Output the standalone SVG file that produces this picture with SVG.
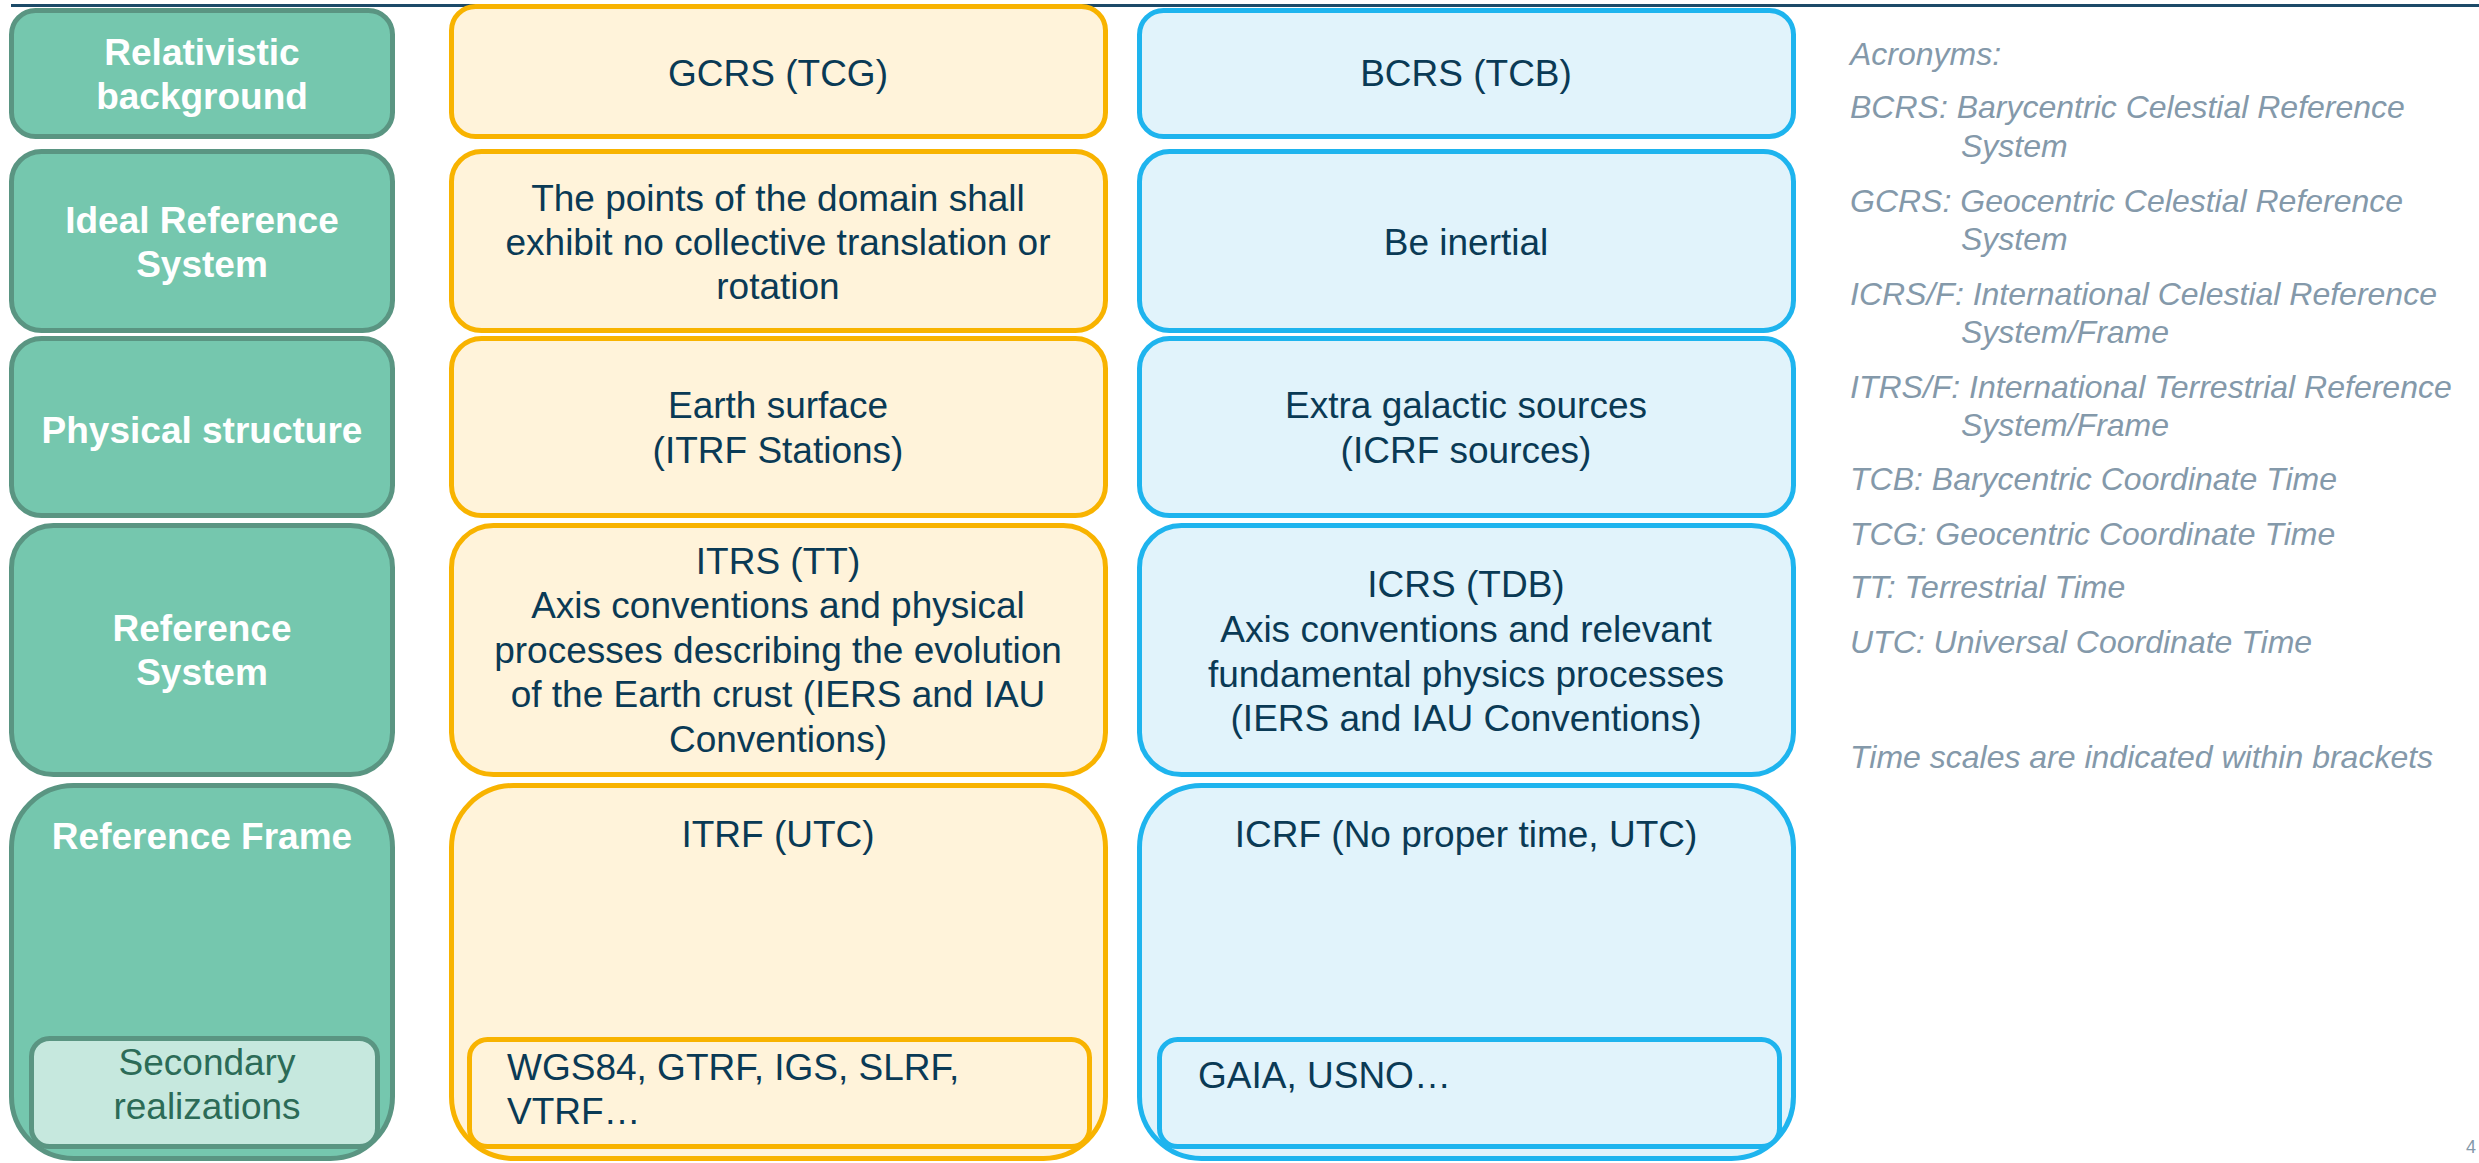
<svg xmlns="http://www.w3.org/2000/svg" width="2479" height="1163" viewBox="0 0 2479 1163">
<style>
text{font-family:"Liberation Sans",Arial,sans-serif}
.g{fill:#75c7ae;stroke:#5a9582;stroke-width:5}
.gs{fill:#c6e8de;stroke:#5a9582;stroke-width:5}
.o{fill:#fff3da;stroke:#f8b300;stroke-width:5}
.b{fill:#e1f3fb;stroke:#1eb4ee;stroke-width:5}
.gl{fill:#ffffff;font-weight:bold;font-size:37px;text-anchor:middle}
.sl{fill:#2c6b57;font-size:37px;text-anchor:middle}
.t{fill:#0a3a55;font-size:37px;text-anchor:middle}
.tl{fill:#0a3a55;font-size:37px}
.a{fill:#8499aa;font-size:32px;font-style:italic}
</style>
<rect width="2479" height="1163" fill="#ffffff"/>
<line x1="11" y1="5.5" x2="2479" y2="5.5" stroke="#1c4a68" stroke-width="3"/>
<g id="connectors"></g>
<g id="green-relativistic"><rect class="g" x="11.5" y="10.5" width="381" height="126" rx="24"/><text class="gl" x="202" y="65">Relativistic</text><text class="gl" x="202" y="109">background</text></g>
<g id="green-ideal"><rect class="g" x="11.5" y="151.5" width="381" height="179" rx="30"/><text class="gl" x="202" y="233">Ideal Reference</text><text class="gl" x="202" y="277">System</text></g>
<g id="green-physical"><rect class="g" x="11.5" y="338.5" width="381" height="177" rx="30"/><text class="gl" x="202" y="443">Physical structure</text></g>
<g id="green-refsystem"><rect class="g" x="11.5" y="525.5" width="381" height="249" rx="42"/><text class="gl" x="202" y="641">Reference</text><text class="gl" x="202" y="685">System</text></g>
<g id="green-refframe"><rect class="g" x="11.5" y="785.5" width="381" height="373" rx="62"/><text class="gl" x="202" y="849">Reference Frame</text></g>
<g id="green-secondary"><rect class="gs" x="31.5" y="1038.5" width="346" height="108" rx="18"/><text class="sl" x="207" y="1075">Secondary</text><text class="sl" x="207" y="1119">realizations</text></g>
<g id="gcrs"><rect class="o" x="451.5" y="6.5" width="654" height="130" rx="24"/><text class="t" x="778" y="86">GCRS (TCG)</text></g>
<g id="gcrs-ideal"><rect class="o" x="451.5" y="151.5" width="654" height="179" rx="30"/><text class="t" x="778" y="211">The points of the domain shall</text><text class="t" x="778" y="255">exhibit no collective translation or</text><text class="t" x="778" y="299">rotation</text></g>
<g id="earth-surface"><rect class="o" x="451.5" y="338.5" width="654" height="177" rx="30"/><text class="t" x="778" y="418">Earth surface</text><text class="t" x="778" y="463">(ITRF Stations)</text></g>
<g id="itrs"><rect class="o" x="451.5" y="525.5" width="654" height="249" rx="42"/><text class="t" x="778" y="574">ITRS (TT)</text><text class="t" x="778" y="618">Axis conventions and physical</text><text class="t" x="778" y="663">processes describing the evolution</text><text class="t" x="778" y="707">of the Earth crust (IERS and IAU</text><text class="t" x="778" y="752">Conventions)</text></g>
<g id="itrf"><rect class="o" x="451.5" y="785.5" width="654" height="373" rx="62"/><text class="t" x="778" y="847">ITRF (UTC)</text></g>
<g id="itrf-secondary"><rect class="o" x="469.5" y="1039.5" width="620" height="107" rx="18"/><text class="tl" x="507" y="1080">WGS84, GTRF, IGS, SLRF,</text><text class="tl" x="507" y="1124">VTRF…</text></g>
<g id="bcrs"><rect class="b" x="1139.5" y="10.5" width="654" height="126" rx="24"/><text class="t" x="1466" y="86">BCRS (TCB)</text></g>
<g id="bcrs-ideal"><rect class="b" x="1139.5" y="151.5" width="654" height="179" rx="30"/><text class="t" x="1466" y="255">Be inertial</text></g>
<g id="extragalactic"><rect class="b" x="1139.5" y="338.5" width="654" height="177" rx="30"/><text class="t" x="1466" y="418">Extra galactic sources</text><text class="t" x="1466" y="463">(ICRF sources)</text></g>
<g id="icrs"><rect class="b" x="1139.5" y="525.5" width="654" height="249" rx="42"/><text class="t" x="1466" y="597">ICRS (TDB)</text><text class="t" x="1466" y="642">Axis conventions and relevant</text><text class="t" x="1466" y="687">fundamental physics processes</text><text class="t" x="1466" y="731">(IERS and IAU Conventions)</text></g>
<g id="icrf"><rect class="b" x="1139.5" y="785.5" width="654" height="373" rx="62"/><text class="t" x="1466" y="847">ICRF (No proper time, UTC)</text></g>
<g id="icrf-secondary"><rect class="b" x="1159.5" y="1039.5" width="620" height="107" rx="18"/><text class="tl" x="1198" y="1088">GAIA, USNO…</text></g>
<g id="acronyms">
<text class="a" x="1850" y="65">Acronyms:</text>
<text class="a" x="1850" y="118">BCRS: Barycentric Celestial Reference</text>
<text class="a" x="1961" y="157">System</text>
<text class="a" x="1850" y="212">GCRS: Geocentric Celestial Reference</text>
<text class="a" x="1961" y="250">System</text>
<text class="a" x="1850" y="305">ICRS/F: International Celestial Reference</text>
<text class="a" x="1961" y="343">System/Frame</text>
<text class="a" x="1850" y="398">ITRS/F: International Terrestrial Reference</text>
<text class="a" x="1961" y="436">System/Frame</text>
<text class="a" x="1850" y="490">TCB: Barycentric Coordinate Time</text>
<text class="a" x="1850" y="545">TCG: Geocentric Coordinate Time</text>
<text class="a" x="1850" y="598">TT: Terrestrial Time</text>
<text class="a" x="1850" y="653">UTC: Universal Coordinate Time</text>
<text class="a" x="1850" y="768">Time scales are indicated within brackets</text>
</g>
<text x="2476" y="1153" fill="#8499aa" font-size="18" text-anchor="end" style="font-family:'Liberation Sans',Arial,sans-serif">4</text>
</svg>
